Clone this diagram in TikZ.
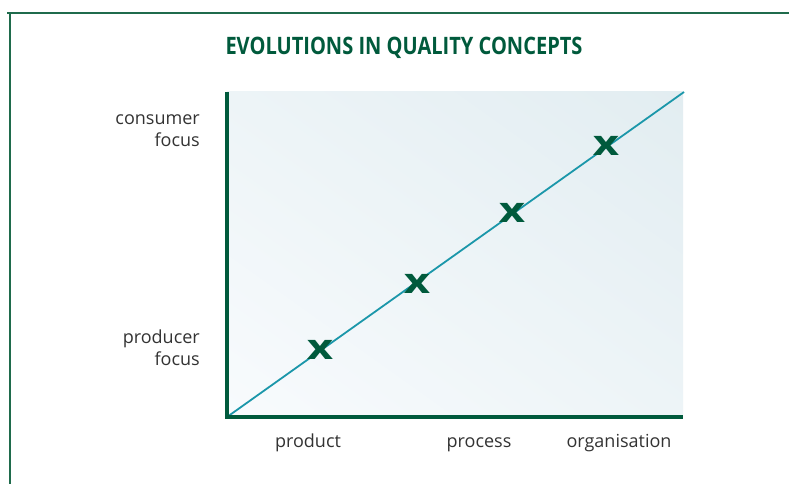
\documentclass[tikz,border=0pt]{standalone}
\usepackage{fontspec}
\setmainfont{Open Sans}
\usepackage{graphicx}
\usetikzlibrary{shadings}
\definecolor{dkgreen}{HTML}{005A3C}
\definecolor{framegreen}{HTML}{1F6B4C}
\definecolor{teal}{HTML}{1B97AA}
\definecolor{txt}{HTML}{333333}
\definecolor{shadeA}{HTML}{F8FBFD}
\definecolor{shadeB}{HTML}{E2EDF1}
\definecolor{shadeM}{HTML}{EDF4F7}
\tikzset{
  frame/.style={draw=framegreen, line width=1.5pt},
  axisline/.style={draw=dkgreen, line width=4pt, line join=miter},
  diag/.style={draw=teal, line width=1.8pt},
  xmark/.style={inner sep=0pt, text=dkgreen, font=\fontsize{35}{35}\selectfont\bfseries},
  lab/.style={inner sep=0pt, text=txt, font=\fontsize{18}{22}\selectfont},
  title/.style={inner sep=0pt, text=dkgreen}
}
\begin{document}
\begin{tikzpicture}[x=1pt,y=-1pt]
\useasboundingbox (0,0) rectangle (789,484);
\fill[white] (0,0) rectangle (789,484);
\draw[frame] (7,13) -- (789,13);
\draw[frame] (10,13) -- (10,484);
\node[title, anchor=base] (t) at (404,55) {\resizebox{357pt}{\height}{\fontsize{24}{24}\selectfont\bfseries EVOLUTIONS IN QUALITY CONCEPTS}};
\shade[lower left=shadeA, upper right=shadeB, lower right=shadeM, upper left=shadeM] (227,92) rectangle (683,417);
\coordinate (top) at (227,92);
\coordinate (O) at (227,417);
\coordinate (right) at (683,417);
\coordinate (TR) at (684,92);
\draw[diag] (O) -- (TR);
\draw[axisline] (top) -- (O) -- (right);
\node[xmark] (x1) at (320,350) {\scalebox{1.3}[1]{x}};
\node[xmark] (x2) at (417,284) {\scalebox{1.3}[1]{x}};
\node[xmark] (x3) at (512,213) {\scalebox{1.3}[1]{x}};
\node[xmark] (x4) at (606,146) {\scalebox{1.3}[1]{x}};
\node[lab, align=right, anchor=east] (cf) at (200,131) {consumer\\focus};
\node[lab, align=right, anchor=east] (pf) at (200,348) {producer\\focus};
\node[lab, anchor=base] (l1) at (308,447) {product};
\node[lab, anchor=base] (l2) at (479,447) {process};
\node[lab, anchor=base] (l3) at (619,447) {organisation};
\end{tikzpicture}
\end{document}
